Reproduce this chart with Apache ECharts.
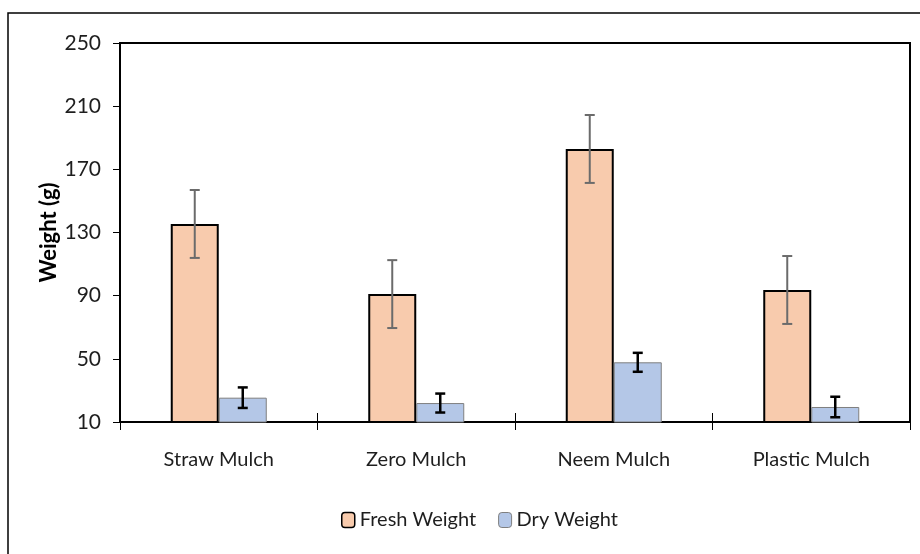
<!DOCTYPE html>
<html>
<head>
<meta charset="utf-8">
<script src="https://cdn.jsdelivr.net/npm/echarts@6/dist/echarts.min.js"></script>
<style>html,body{margin:0;padding:0;background:#fff;}#c{width:920px;height:554px;}</style>
</head>
<body>
<div id="c"></div>
<script>
const categories = ['Straw Mulch', 'Zero Mulch', 'Neem Mulch', 'Plastic Mulch'];
const freshWeight = [135.4, 91, 182.9, 93.6];
const freshErr = [21.5, 21.5, 21.5, 21.5];
const dryWeight = [25.4, 22, 47.8, 19.5];
const dryErr = [6.5, 6, 6, 6.5];
const yMin = 10, yMax = 250, yStep = 40;

const chart = echarts.init(document.getElementById('c'), null, {renderer: 'canvas'});
const font = 'Lato, "Open Sans", sans-serif';
const txt = '#1e1e1e';

function errSeries(name, vals, errs, offset, color, lw) {
  return {
    type: 'custom',
    name: name + ' err',
    xAxisIndex: 0,
    z: 5,
    silent: true,
    data: vals.map((v, i) => [i, v - errs[i], v + errs[i]]),
    encode: {x: 0, y: [1, 2]},
    renderItem: function (params, api) {
      const lo = api.coord([api.value(0), api.value(1)]);
      const hi = api.coord([api.value(0), api.value(2)]);
      const x = lo[0] + offset;
      const cap = 5;
      const style = {stroke: color, lineWidth: lw};
      return {
        type: 'group',
        children: [
          {type: 'line', shape: {x1: x, y1: lo[1], x2: x, y2: hi[1]}, style: style},
          {type: 'line', shape: {x1: x - cap, y1: lo[1], x2: x + cap, y2: lo[1]}, style: style},
          {type: 'line', shape: {x1: x - cap, y1: hi[1], x2: x + cap, y2: hi[1]}, style: style}
        ]
      };
    }
  };
}

chart.setOption({
  backgroundColor: '#fff',
  animation: false,
  graphic: [{
    type: 'rect', z: -10, silent: true,
    shape: {x: 8, y: 13, width: 2000, height: 2000},
    style: {fill: 'none', stroke: '#000', lineWidth: 1.5}
  }],
  grid: {left: 120, right: 10, top: 43, bottom: 132, show: true, borderColor: '#000', borderWidth: 2, containLabel: false},
  legend: {
    left: 336, top: 505,
    itemWidth: 13, itemHeight: 15, itemGap: 22,
    textStyle: {fontFamily: font, fontSize: 20, color: txt, padding: [0, 0, 0, 0]},
    data: [
      {name: 'Fresh Weight', itemStyle: {color: '#F8CBAD', borderColor: '#000', borderWidth: 1.5}},
      {name: 'Dry Weight', itemStyle: {color: '#B4C7E7', borderColor: '#7f7f7f', borderWidth: 1}}
    ]
  },
  xAxis: [{
    type: 'category', data: categories, position: 'bottom',
    axisLine: {lineStyle: {color: '#000', width: 2}},
    axisTick: {show: true, length: 8, lineStyle: {color: '#000', width: 1}},
    axisLabel: {fontFamily: font, fontSize: 20, color: txt, margin: 28}
  }, {
    type: 'category', data: categories, position: 'bottom',
    axisLine: {show: false},
    axisTick: {show: true, inside: true, length: 9, lineStyle: {color: '#000', width: 1}},
    axisLabel: {show: false}
  }],
  yAxis: {
    type: 'value', min: yMin, max: yMax, interval: yStep,
    name: 'Weight (g)', nameLocation: 'middle', nameGap: 60, nameMoveOverlap: false,
    nameTextStyle: {fontFamily: font, fontSize: 22, fontWeight: 'bold', color: '#000'},
    axisLine: {show: true, lineStyle: {color: '#000', width: 2}},
    axisTick: {show: true, length: 7, lineStyle: {color: '#000', width: 1}},
    axisLabel: {fontFamily: font, fontSize: 21, color: txt, margin: 19},
    splitLine: {show: false}
  },
  series: [
    {
      name: 'Fresh Weight', type: 'bar', data: freshWeight, barWidth: 48, barGap: '0%', xAxisIndex: 0,
      itemStyle: {color: '#F8CBAD', borderColor: '#000', borderWidth: 2}
    },
    {
      name: 'Dry Weight', type: 'bar', data: dryWeight, barWidth: 48, barGap: '0%', xAxisIndex: 0,
      itemStyle: {color: '#B4C7E7', borderColor: '#7f7f7f', borderWidth: 1}
    },
    errSeries('Fresh Weight', freshWeight, freshErr, -24, '#6b6b6b', 2),
    errSeries('Dry Weight', dryWeight, dryErr, 24, '#000', 2.5)
  ]
});
</script>
</body>
</html>
